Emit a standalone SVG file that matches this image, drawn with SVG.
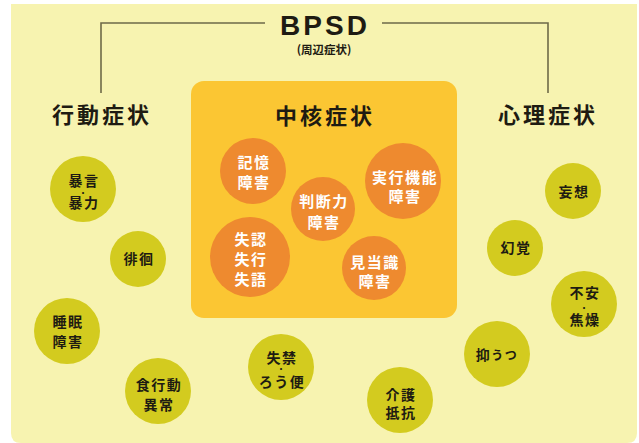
<svg xmlns="http://www.w3.org/2000/svg" width="639" height="443" viewBox="0 0 639 443">
<style>
.jp{font-family:"Noto Sans CJK JP","Noto Sans CJK SC",sans-serif;font-weight:bold;text-anchor:middle}
.hd{font-size:22px;fill:#1e1b12;letter-spacing:3px}
.ow{font-size:15px;fill:#ffffff;letter-spacing:1.5px}
.dk{font-size:14px;fill:#1e1b12;letter-spacing:1.5px}
.dot{font-size:8px;fill:#1e1b12}
.sm{font-size:12px}
.oc{fill:#ee8a2f}
.gc{fill:#d3cb1f}
.ln{fill:none;stroke:#6e6a48;stroke-width:1.6}
</style>
<rect width="639" height="443" fill="#ffffff"/>
<path d="M11 4 H637 V433 Q637 443 627 443 H21 Q11 443 11 433 Z" fill="#f7f3b0"/>
<g id="connectors">
<path class="ln" d="M265 23 H101 V93"/>
<path class="ln" d="M382 23 H548 V93"/>
</g>
<g id="bpsd">
<text x="325" y="35" font-family="Liberation Sans,Arial,sans-serif" font-weight="bold" font-size="28" letter-spacing="3" text-anchor="middle" fill="#1e1b12">BPSD</text>
<text class="jp" x="324" y="54" font-size="11.5" fill="#1e1b12">(周辺症状)</text>
</g>
<g id="behavior-title"><text class="jp hd" x="102" y="123">行動症状</text></g>
<g id="psych-title"><text class="jp hd" x="548" y="123">心理症状</text></g>
<g id="core">
<rect x="191" y="81" width="266" height="237" rx="13" fill="#fbc633"/>
<text class="jp hd" x="325" y="124">中核症状</text>
</g>
<g id="memory"><circle class="oc" cx="253" cy="171" r="33"/><text class="jp ow"><tspan x="254" y="168">記憶</tspan><tspan x="254" y="188">障害</tspan></text></g>
<g id="executive"><circle class="oc" cx="403" cy="181" r="38"/><text class="jp ow"><tspan x="405" y="183">実行機能</tspan><tspan x="405" y="202">障害</tspan></text></g>
<g id="judgment"><circle class="oc" cx="323" cy="209" r="32"/><text class="jp ow"><tspan x="324" y="207">判断力</tspan><tspan x="324" y="228">障害</tspan></text></g>
<g id="agnosia"><circle class="oc" cx="250" cy="257" r="40"/><text class="jp ow"><tspan x="251" y="245">失認</tspan><tspan x="251" y="265">失行</tspan><tspan x="251" y="285">失語</tspan></text></g>
<g id="orientation"><circle class="oc" cx="374" cy="268" r="32"/><text class="jp ow"><tspan x="375" y="268">見当識</tspan><tspan x="375" y="287">障害</tspan></text></g>
<g id="violence"><circle class="gc" cx="83" cy="189" r="33"/><text class="jp dk" x="84" y="186">暴言</text><text class="jp dot" x="83" y="196">・</text><text class="jp dk" x="84" y="208">暴力</text></g>
<g id="wandering"><circle class="gc" cx="138" cy="259" r="28"/><text class="jp dk" x="139" y="264">徘徊</text></g>
<g id="sleep"><circle class="gc" cx="67" cy="331" r="33"/><text class="jp dk"><tspan x="68" y="327">睡眠</tspan><tspan x="68" y="347">障害</tspan></text></g>
<g id="eating"><circle class="gc" cx="158" cy="391" r="33"/><text class="jp dk"><tspan x="159" y="390">食行動</tspan><tspan x="159" y="410">異常</tspan></text></g>
<g id="incontinence"><circle class="gc" cx="281" cy="367" r="33"/><text class="jp dk" x="282" y="363">失禁</text><text class="jp dot" x="281" y="372">・</text><text class="jp dk" x="282" y="387">ろう便</text></g>
<g id="resistance"><circle class="gc" cx="400" cy="400" r="33"/><text class="jp dk"><tspan x="401" y="400">介護</tspan><tspan x="401" y="418">抵抗</tspan></text></g>
<g id="delusion"><circle class="gc" cx="573" cy="191" r="28"/><text class="jp dk" x="574" y="197">妄想</text></g>
<g id="hallucination"><circle class="gc" cx="515" cy="248" r="28"/><text class="jp dk" x="516" y="253">幻覚</text></g>
<g id="anxiety"><circle class="gc" cx="584" cy="304" r="33"/><text class="jp dk" x="585" y="298">不安</text><text class="jp dot" x="584" y="311">・</text><text class="jp dk" x="585" y="325">焦燥</text></g>
<g id="depression"><circle class="gc" cx="497" cy="354" r="33"/><text class="jp dk" x="497" y="360">抑<tspan class="sm">うつ</tspan></text></g>
</svg>
